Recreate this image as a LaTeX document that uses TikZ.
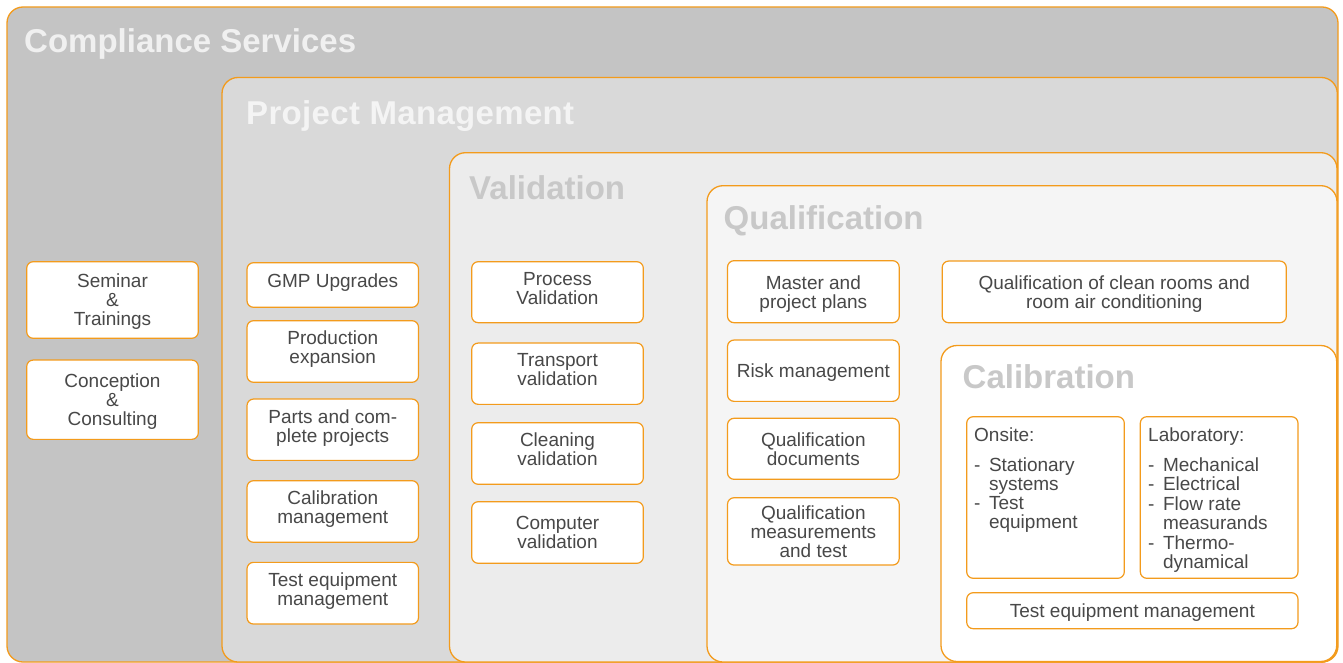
\documentclass[tikz,border=0pt]{standalone}
\usepackage{fontspec}
\setmainfont{Liberation Sans}
\definecolor{obord}{RGB}{243,155,28}
\definecolor{fa}{RGB}{196,196,196}
\definecolor{fb}{RGB}{217,217,217}
\definecolor{fc}{RGB}{236,236,236}
\definecolor{fd}{RGB}{245,245,245}
\definecolor{ta}{RGB}{240,240,240}
\definecolor{tb}{RGB}{244,244,244}
\definecolor{tc}{RGB}{200,200,200}
\definecolor{txtc}{RGB}{72,72,72}
\newcommand\bodyfnt{\fontsize{19}{19}\selectfont}
\newcommand\titlefnt{\fontsize{33}{35}\selectfont\bfseries}
\tikzset{
  panel/.style={draw=obord, line width=1.3pt, rounded corners=16pt},
  ptitle/.style={anchor=base west, inner sep=0pt, font=\titlefnt},
  sbox/.style={draw=obord, fill=white, line width=1.2pt, rounded corners=6.5pt,
    align=center, inner sep=0pt, text=txtc, font=\bodyfnt, text depth=0pt},
  pmbox/.style={sbox, text depth=8pt},
  lowbox/.style={sbox, text depth=-4pt},
  listtext/.style={anchor=base west, inner sep=0pt, text=txtc, font=\bodyfnt},
}
\begin{document}
\begin{tikzpicture}[x=1pt,y=-1pt]
\useasboundingbox (0,0) rectangle (1343,663);
\fill[white] (0,0) rectangle (1343,663);
% nested panels
\draw[panel, fill=fa] (7,7) rectangle (1338,662);
\draw[panel, fill=fb] (222,77.5) rectangle (1337.3,662);
\draw[panel, fill=fc] (449.5,152.7) rectangle (1337,662);
\draw[panel, fill=fd] (707,185.7) rectangle (1337,662);
\draw[panel, fill=white] (941,345.5) rectangle (1336.7,661.5);
% titles
\node[ptitle, text=ta] (tcomp) at (24,52.7) {Compliance Services};
\node[ptitle, text=tb] (tpm) at (246,125) {\addfontfeature{LetterSpace=1}Project Management};
\node[ptitle, text=tc] (tval) at (469,199.3) {Validation};
\node[ptitle, text=tc] (tqual) at (723.5,229.3) {Qualification};
\node[ptitle, text=tc] (tcal) at (962.5,388.7) {Calibration};
% compliance column
\node[lowbox, minimum width=171.6pt, minimum height=76.6pt] (seminar) at (112.5,300) {Seminar\\\&\\Trainings};
\node[lowbox, minimum width=171.6pt, minimum height=79.3pt] (concept) at (112.5,399.7) {Conception\\\&\\Consulting};
% project management column
\node[pmbox, minimum width=171.5pt, minimum height=44.6pt] (gmp) at (332.75,285) {GMP Upgrades};
\node[pmbox, minimum width=171.5pt, minimum height=61.6pt] (prod) at (332.75,351.5) {Production\\expansion};
\node[pmbox, minimum width=171.5pt, minimum height=61.3pt] (parts) at (332.75,429.7) {Parts and com-\\plete projects};
\node[pmbox, minimum width=171.5pt, minimum height=61.6pt] (calm) at (332.75,511.5) {Calibration\\management};
\node[pmbox, minimum width=171.5pt, minimum height=61.7pt] (testm) at (332.75,593.2) {Test equipment\\management};
% validation column
\node[pmbox, minimum width=171.6pt, minimum height=61pt] (process) at (557.5,292.2) {Process\\Validation};
\node[pmbox, minimum width=171.6pt, minimum height=61.3pt] (transport) at (557.5,373.7) {Transport\\validation};
\node[pmbox, minimum width=171.6pt, minimum height=61.6pt] (cleaning) at (557.5,453.5) {Cleaning\\validation};
\node[sbox, minimum width=171.6pt, minimum height=61.6pt] (computer) at (557.5,532.5) {Computer\\validation};
% qualification column
\node[sbox, minimum width=171.7pt, minimum height=62pt] (master) at (813.35,291.7) {Master and\\project plans};
\node[sbox, minimum width=171.7pt, minimum height=61.3pt] (risk) at (813.35,370.7) {Risk management};
\node[sbox, minimum width=171.7pt, minimum height=61pt] (qdocs) at (813.35,448.8) {Qualification\\documents};
\node[sbox, minimum width=171.7pt, minimum height=67.3pt] (qmeas) at (813.35,531.4) {Qualification\\measurements\\and test};
\node[sbox, minimum width=344.1pt, minimum height=61.7pt] (clean) at (1114.25,291.9) {Qualification of clean rooms and\\room air conditioning};
% calibration
\node[sbox, minimum width=157.6pt, minimum height=161.6pt] (onsite) at (1045.5,497.5) {};
\node[sbox, minimum width=157.7pt, minimum height=161.6pt] (lab) at (1219.15,497.5) {};
\node[sbox, minimum width=331.3pt, minimum height=36pt] (calte) at (1132.35,610.7) {Test equipment management};
\node[listtext] (onsiteT) at (974,441) {\begin{tabular}[t]{@{}l@{\hspace{8.5pt}}l@{}}\multicolumn{2}{@{}l@{}}{Onsite:}\\[11pt]
-&Stationary\\ &systems\\ -&Test\\ &equipment\end{tabular}};
\node[listtext] (labT) at (1148,441) {\begin{tabular}[t]{@{}l@{\hspace{8.5pt}}l@{}}\multicolumn{2}{@{}l@{}}{Laboratory:}\\[11pt]
-&Mechanical\\ -&Electrical\\ -&Flow rate\\ &measurands\\ -&Thermo-\\ &dynamical\end{tabular}};
\end{tikzpicture}
\end{document}
